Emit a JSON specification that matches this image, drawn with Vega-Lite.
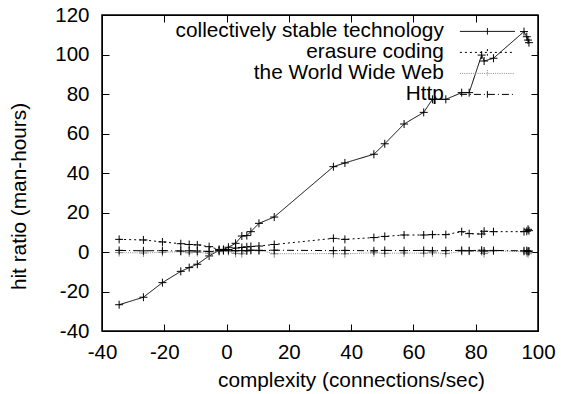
{
  "$schema": "https://vega.github.io/schema/vega-lite/v6.json",
  "width": 436,
  "height": 316,
  "autosize": {"type": "none"},
  "padding": {"left": 102, "top": 15, "right": 23, "bottom": 63},
  "config": {
    "font": "Liberation Sans",
    "view": {"stroke": "#000", "strokeWidth": 1.5},
    "axis": {
      "grid": false,
      "labelFont": "Liberation Sans",
      "labelFontSize": 20.5,
      "labelColor": "#000",
      "labelFlush": false,
      "labelExpr": "'' + datum.value",
      "titleFont": "Liberation Sans",
      "titleFontSize": 20.8,
      "titleFontWeight": "normal",
      "titleColor": "#000",
      "tickColor": "#000",
      "tickSize": -7,
      "domainColor": "#000"
    },
    "legend": {
      "labelFont": "Liberation Sans",
      "labelFontSize": 20.8,
      "labelColor": "#000",
      "labelLimit": 500
    }
  },
  "data": {
    "values": [
      {"s": "collectively stable technology", "x": -34.5, "y": -26.7},
      {"s": "collectively stable technology", "x": -26.7, "y": -22.9},
      {"s": "collectively stable technology", "x": -20.6, "y": -15.5},
      {"s": "collectively stable technology", "x": -14.7, "y": -9.8},
      {"s": "collectively stable technology", "x": -12.0, "y": -7.9},
      {"s": "collectively stable technology", "x": -9.4, "y": -6.2},
      {"s": "collectively stable technology", "x": -5.6, "y": -2.0},
      {"s": "collectively stable technology", "x": -2.4, "y": 0.9},
      {"s": "collectively stable technology", "x": -1.0, "y": 1.3},
      {"s": "collectively stable technology", "x": 0.6, "y": 2.4},
      {"s": "collectively stable technology", "x": 2.9, "y": 4.4},
      {"s": "collectively stable technology", "x": 4.9, "y": 8.1},
      {"s": "collectively stable technology", "x": 6.5, "y": 8.3},
      {"s": "collectively stable technology", "x": 7.8, "y": 10.3},
      {"s": "collectively stable technology", "x": 10.4, "y": 14.5},
      {"s": "collectively stable technology", "x": 15.3, "y": 17.7},
      {"s": "collectively stable technology", "x": 34.3, "y": 43.2},
      {"s": "collectively stable technology", "x": 38.0, "y": 45.1},
      {"s": "collectively stable technology", "x": 47.3, "y": 49.5},
      {"s": "collectively stable technology", "x": 50.8, "y": 54.8},
      {"s": "collectively stable technology", "x": 57.0, "y": 64.8},
      {"s": "collectively stable technology", "x": 63.3, "y": 70.7},
      {"s": "collectively stable technology", "x": 66.1, "y": 77.3},
      {"s": "collectively stable technology", "x": 70.4, "y": 77.3},
      {"s": "collectively stable technology", "x": 75.5, "y": 80.7},
      {"s": "collectively stable technology", "x": 77.9, "y": 80.7},
      {"s": "collectively stable technology", "x": 81.9, "y": 99.7},
      {"s": "collectively stable technology", "x": 82.7, "y": 96.7},
      {"s": "collectively stable technology", "x": 85.7, "y": 98.1},
      {"s": "collectively stable technology", "x": 95.5, "y": 111.6},
      {"s": "collectively stable technology", "x": 96.4, "y": 109.0},
      {"s": "collectively stable technology", "x": 96.8, "y": 107.3},
      {"s": "collectively stable technology", "x": 97.1, "y": 106.0},
      {"s": "erasure coding", "x": -34.5, "y": 6.4},
      {"s": "erasure coding", "x": -26.7, "y": 6.1},
      {"s": "erasure coding", "x": -20.6, "y": 5.1},
      {"s": "erasure coding", "x": -14.7, "y": 4.2},
      {"s": "erasure coding", "x": -12.0, "y": 3.8},
      {"s": "erasure coding", "x": -9.4, "y": 3.6},
      {"s": "erasure coding", "x": -5.6, "y": 2.7},
      {"s": "erasure coding", "x": -2.4, "y": 1.3},
      {"s": "erasure coding", "x": -1.0, "y": 1.0},
      {"s": "erasure coding", "x": 0.6, "y": 1.2},
      {"s": "erasure coding", "x": 2.9, "y": 2.0},
      {"s": "erasure coding", "x": 4.9, "y": 2.3},
      {"s": "erasure coding", "x": 6.5, "y": 2.6},
      {"s": "erasure coding", "x": 7.8, "y": 2.8},
      {"s": "erasure coding", "x": 10.4, "y": 3.0},
      {"s": "erasure coding", "x": 15.3, "y": 3.8},
      {"s": "erasure coding", "x": 34.3, "y": 6.9},
      {"s": "erasure coding", "x": 38.0, "y": 6.4},
      {"s": "erasure coding", "x": 47.3, "y": 7.3},
      {"s": "erasure coding", "x": 50.8, "y": 7.9},
      {"s": "erasure coding", "x": 57.0, "y": 8.6},
      {"s": "erasure coding", "x": 63.3, "y": 8.6},
      {"s": "erasure coding", "x": 66.1, "y": 8.8},
      {"s": "erasure coding", "x": 70.4, "y": 8.8},
      {"s": "erasure coding", "x": 75.5, "y": 10.3},
      {"s": "erasure coding", "x": 77.9, "y": 9.3},
      {"s": "erasure coding", "x": 81.9, "y": 9.1},
      {"s": "erasure coding", "x": 82.7, "y": 10.5},
      {"s": "erasure coding", "x": 85.7, "y": 10.3},
      {"s": "erasure coding", "x": 95.5, "y": 10.3},
      {"s": "erasure coding", "x": 96.4, "y": 10.5},
      {"s": "erasure coding", "x": 96.8, "y": 11.5},
      {"s": "erasure coding", "x": 97.1, "y": 10.8},
      {"s": "the World Wide Web", "x": -34.5, "y": -0.3},
      {"s": "the World Wide Web", "x": -26.7, "y": -0.5},
      {"s": "the World Wide Web", "x": -20.6, "y": -0.2},
      {"s": "the World Wide Web", "x": -14.7, "y": 0.2},
      {"s": "the World Wide Web", "x": -12.0, "y": -0.4},
      {"s": "the World Wide Web", "x": -9.4, "y": -0.2},
      {"s": "the World Wide Web", "x": -5.6, "y": -0.6},
      {"s": "the World Wide Web", "x": -2.4, "y": 0.2},
      {"s": "the World Wide Web", "x": -1.0, "y": 0.6},
      {"s": "the World Wide Web", "x": 0.6, "y": 0.3},
      {"s": "the World Wide Web", "x": 2.9, "y": -0.7},
      {"s": "the World Wide Web", "x": 4.9, "y": -0.9},
      {"s": "the World Wide Web", "x": 6.5, "y": 0.8},
      {"s": "the World Wide Web", "x": 7.8, "y": 1.2},
      {"s": "the World Wide Web", "x": 10.4, "y": 1.0},
      {"s": "the World Wide Web", "x": 15.3, "y": -0.9},
      {"s": "the World Wide Web", "x": 34.3, "y": -0.8},
      {"s": "the World Wide Web", "x": 38.0, "y": -0.9},
      {"s": "the World Wide Web", "x": 47.3, "y": -0.4},
      {"s": "the World Wide Web", "x": 50.8, "y": -0.7},
      {"s": "the World Wide Web", "x": 57.0, "y": -0.5},
      {"s": "the World Wide Web", "x": 63.3, "y": -0.6},
      {"s": "the World Wide Web", "x": 66.1, "y": -0.4},
      {"s": "the World Wide Web", "x": 70.4, "y": -0.8},
      {"s": "the World Wide Web", "x": 75.5, "y": 0.3},
      {"s": "the World Wide Web", "x": 77.9, "y": 0.4},
      {"s": "the World Wide Web", "x": 81.9, "y": 0.2},
      {"s": "the World Wide Web", "x": 82.7, "y": -0.8},
      {"s": "the World Wide Web", "x": 85.7, "y": 0.5},
      {"s": "the World Wide Web", "x": 95.5, "y": 0.2},
      {"s": "the World Wide Web", "x": 96.4, "y": -0.4},
      {"s": "the World Wide Web", "x": 96.8, "y": -0.9},
      {"s": "the World Wide Web", "x": 97.1, "y": 0.0},
      {"s": "Http", "x": -34.5, "y": 0.8},
      {"s": "Http", "x": -26.7, "y": 0.6},
      {"s": "Http", "x": -20.6, "y": 0.7},
      {"s": "Http", "x": -14.7, "y": 0.5},
      {"s": "Http", "x": -12.0, "y": 0.6},
      {"s": "Http", "x": -9.4, "y": 0.5},
      {"s": "Http", "x": -5.6, "y": 0.3},
      {"s": "Http", "x": -2.4, "y": 0.6},
      {"s": "Http", "x": -1.0, "y": 0.8},
      {"s": "Http", "x": 0.6, "y": 0.9},
      {"s": "Http", "x": 2.9, "y": 0.6},
      {"s": "Http", "x": 4.9, "y": 0.7},
      {"s": "Http", "x": 6.5, "y": 0.6},
      {"s": "Http", "x": 7.8, "y": 0.8},
      {"s": "Http", "x": 10.4, "y": 0.7},
      {"s": "Http", "x": 15.3, "y": 0.9},
      {"s": "Http", "x": 34.3, "y": 0.7},
      {"s": "Http", "x": 38.0, "y": 0.8},
      {"s": "Http", "x": 47.3, "y": 0.6},
      {"s": "Http", "x": 50.8, "y": 0.8},
      {"s": "Http", "x": 57.0, "y": 0.7},
      {"s": "Http", "x": 63.3, "y": 0.8},
      {"s": "Http", "x": 66.1, "y": 0.6},
      {"s": "Http", "x": 70.4, "y": 0.7},
      {"s": "Http", "x": 75.5, "y": 0.8},
      {"s": "Http", "x": 77.9, "y": 0.7},
      {"s": "Http", "x": 81.9, "y": 0.9},
      {"s": "Http", "x": 82.7, "y": 0.5},
      {"s": "Http", "x": 85.7, "y": 0.8},
      {"s": "Http", "x": 95.5, "y": 0.6},
      {"s": "Http", "x": 96.4, "y": 0.7},
      {"s": "Http", "x": 96.8, "y": 0.3},
      {"s": "Http", "x": 97.1, "y": 0.5}
    ]
  },
  "layer": [
    {
      "mark": {"type": "line", "strokeWidth": 1, "clip": true},
      "encoding": {
        "x": {"field": "x", "type": "quantitative", "scale": {"domain": [-40, 100], "nice": false, "zero": false},
              "axis": {"title": "complexity (connections/sec)", "titleX": 249, "values": [-40, -20, 0, 20, 40, 60, 80, 100], "labelPadding": 18, "titlePadding": 8}},
        "y": {"field": "y", "type": "quantitative", "scale": {"domain": [-40, 120], "nice": false, "zero": false},
              "axis": {"title": "hit ratio (man-hours)", "titleY": 181, "values": [-40, -20, 0, 20, 40, 60, 80, 100, 120], "labelPadding": 20, "titlePadding": 25}},
        "color": {"field": "s", "type": "nominal",
                  "scale": {"domain": ["collectively stable technology", "erasure coding", "the World Wide Web", "Http"], "range": ["#000000", "#000000", "#888888", "#000000"]},
                  "legend": {"orient": "none", "legendX": 375, "legendY": 6, "title": null, "symbolType": "M-5,0L5,0M0,-0.6L0,0.6", "symbolSize": 121, "symbolStrokeWidth": 1, "labelAlign": "right", "labelOffset": -54, "rowPadding": -1, "padding": 0}},
        "strokeDash": {"field": "s", "type": "nominal",
                  "scale": {"domain": ["collectively stable technology", "erasure coding", "the World Wide Web", "Http"], "range": [[1, 0], [2, 3], [1, 1.2], [7, 3, 1, 3]]},
                  "legend": {"orient": "none", "legendX": 375, "legendY": 6, "title": null, "symbolType": "M-5,0L5,0M0,-0.6L0,0.6", "symbolSize": 121, "symbolStrokeWidth": 1, "labelAlign": "right", "labelOffset": -54, "rowPadding": -1, "padding": 0}}
      }
    },
    {
      "mark": {"type": "point", "shape": "M-1,0L1,0M0,-1L0,1", "filled": false, "size": 64, "strokeWidth": 1, "opacity": 1},
      "encoding": {
        "x": {"field": "x", "type": "quantitative", "axis": {"orient": "top", "labels": false, "title": null, "values": [-40, -20, 0, 20, 40, 60, 80, 100]}},
        "y": {"field": "y", "type": "quantitative", "axis": {"orient": "right", "labels": false, "title": null, "values": [-40, -20, 0, 20, 40, 60, 80, 100, 120]}},
        "color": {"field": "s", "type": "nominal", "legend": null}
      }
    }
  ],
  "resolve": {"axis": {"x": "independent", "y": "independent"}}
}
